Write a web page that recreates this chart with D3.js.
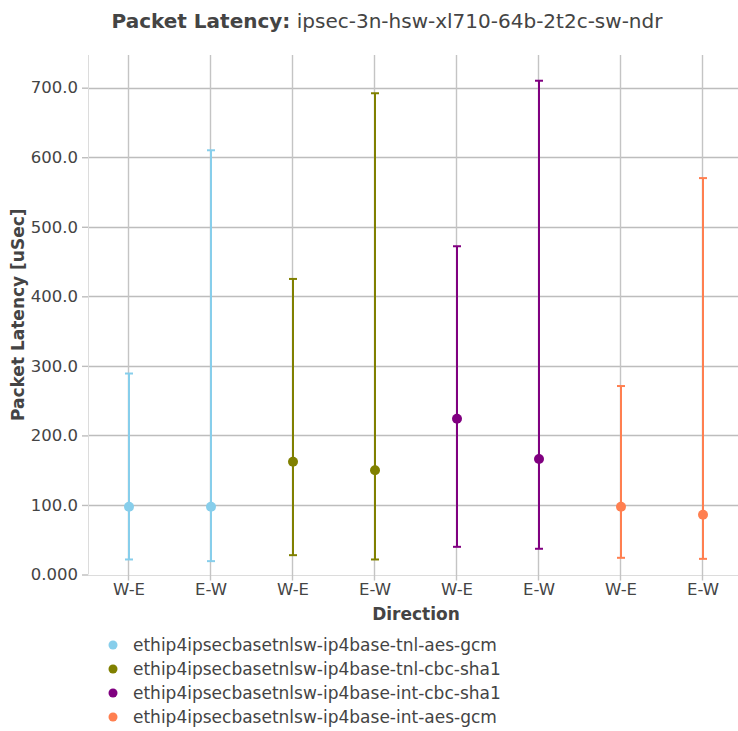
<!DOCTYPE html>
<html>
<head>
<meta charset="utf-8">
<script src="https://cdn.jsdelivr.net/npm/d3@7/dist/d3.min.js"></script>
<style>
  html, body { margin: 0; padding: 0; background: #fff; }
  svg { display: block; font-family: "DejaVu Sans", sans-serif; }
</style>
</head>
<body>
<svg id="chart" width="738" height="731"></svg>
<script>
// ---- data ----
const categories = ["W-E", "E-W", "W-E", "E-W", "W-E", "E-W", "W-E", "E-W"];
const seriesNames = [
  "ethip4ipsecbasetnlsw-ip4base-tnl-aes-gcm",
  "ethip4ipsecbasetnlsw-ip4base-tnl-cbc-sha1",
  "ethip4ipsecbasetnlsw-ip4base-int-cbc-sha1",
  "ethip4ipsecbasetnlsw-ip4base-int-aes-gcm"
];
const seriesColors = ["#87ceeb", "#808000", "#800080", "#ff7f50"];
// per series: [W-E, E-W]
const medianValues = [[97.5, 97.5], [162, 150], [224, 166], [97.5, 86]];
const minValues    = [[21.6, 19.2], [27.8, 21.6], [39.8, 37], [24, 22.5]];
const maxValues    = [[289, 610], [425, 692], [472, 710], [271, 570]];
const yTicks = [0, 100, 200, 300, 400, 500, 600, 700];
const yTickLabels = ["0.000", "100.0", "200.0", "300.0", "400.0", "500.0", "600.0", "700.0"];

// ---- layout ----
const svg = d3.select("#chart");
const L = 88, R = 744, T = 55, B = 574.5;
const txt = "#444";

const x = d3.scaleBand().domain(d3.range(categories.length)).range([L, R]).padding(0);
const xc = i => x(i) + x.bandwidth() / 2;
const y = d3.scaleLinear().domain([0, 747]).range([B, T]);

// grid
const g = svg.append("g");
g.selectAll(".hg").data(yTicks).enter().append("line")
  .attr("x1", L).attr("x2", R)
  .attr("y1", d => Math.round(y(d)) + 0.5).attr("y2", d => Math.round(y(d)) + 0.5)
  .attr("stroke", d => d === 0 ? "#dcdcdc" : "#bdbdbd").attr("stroke-width", d => d === 0 ? 1 : 1.6);
g.selectAll(".vg").data(d3.range(categories.length)).enter().append("line")
  .attr("x1", d => Math.round(xc(d)) - 0.5).attr("x2", d => Math.round(xc(d)) - 0.5)
  .attr("y1", T).attr("y2", B + 6)
  .attr("stroke", "#c4c4c4").attr("stroke-width", 1.4);
// left axis line
g.append("line").attr("x1", L + 0.5).attr("x2", L + 0.5).attr("y1", T).attr("y2", B)
  .attr("stroke", "#dcdcdc").attr("stroke-width", 1);

// y axis
const yAxis = d3.axisLeft(y).tickValues(yTicks).tickFormat((d, i) => yTickLabels[i]).tickSize(6).tickPadding(4);
const ya = svg.append("g").attr("transform", `translate(${L},0)`).call(yAxis);
ya.select(".domain").remove();
ya.selectAll(".tick line").attr("stroke", "#bdbdbd").attr("stroke-width", 1.4);
ya.selectAll(".tick text").attr("fill", txt).attr("font-size", 16.5).attr("font-family", "DejaVu Sans");

// x axis labels
const xAxis = d3.axisBottom(x).tickFormat(i => categories[i]).tickSize(0).tickPadding(9);
const xa = svg.append("g").attr("transform", `translate(0,${B})`).call(xAxis);
xa.select(".domain").remove();
xa.selectAll(".tick text").attr("fill", txt).attr("font-size", 16.5).attr("font-family", "DejaVu Sans");

// data marks
const points = [];
seriesNames.forEach((name, s) => {
  [0, 1].forEach(k => {
    points.push({ s, idx: s * 2 + k, med: medianValues[s][k], lo: minValues[s][k], hi: maxValues[s][k] });
  });
});
const m = svg.append("g");
const pg = m.selectAll(".pt").data(points).enter().append("g");
pg.append("line")
  .attr("x1", d => xc(d.idx)).attr("x2", d => xc(d.idx))
  .attr("y1", d => y(d.lo)).attr("y2", d => y(d.hi))
  .attr("stroke", d => seriesColors[d.s]).attr("stroke-width", 2);
pg.append("line")
  .attr("x1", d => xc(d.idx) - 4).attr("x2", d => xc(d.idx) + 4)
  .attr("y1", d => y(d.lo)).attr("y2", d => y(d.lo))
  .attr("stroke", d => seriesColors[d.s]).attr("stroke-width", 2);
pg.append("line")
  .attr("x1", d => xc(d.idx) - 4).attr("x2", d => xc(d.idx) + 4)
  .attr("y1", d => y(d.hi)).attr("y2", d => y(d.hi))
  .attr("stroke", d => seriesColors[d.s]).attr("stroke-width", 2);
pg.append("circle")
  .attr("cx", d => xc(d.idx)).attr("cy", d => y(d.med)).attr("r", 5)
  .attr("fill", d => seriesColors[d.s]);

// title
const title = svg.append("text").attr("x", 387).attr("y", 28).attr("text-anchor", "middle")
  .attr("fill", txt).attr("font-size", 20);
title.append("tspan").attr("font-weight", "bold").text("Packet Latency:");
title.append("tspan").text(" ipsec-3n-hsw-xl710-64b-2t2c-sw-ndr");

// axis titles
svg.append("text").attr("x", 416).attr("y", 620).attr("text-anchor", "middle")
  .attr("fill", txt).attr("font-size", 17).attr("font-weight", "bold").text("Direction");
svg.append("text").attr("transform", `translate(24,${(T + B) / 2}) rotate(-90)`)
  .attr("text-anchor", "middle").attr("fill", txt).attr("font-size", 17).attr("font-weight", "bold")
  .text("Packet Latency [uSec]");

// legend
const lg = svg.append("g");
const li = lg.selectAll(".li").data(seriesNames).enter().append("g")
  .attr("transform", (d, i) => `translate(0,${645 + i * 24})`);
li.append("circle").attr("cx", 113).attr("cy", 0).attr("r", 4.5).attr("fill", (d, i) => seriesColors[i]);
li.append("text").attr("x", 133).attr("y", 6).attr("fill", txt).attr("font-size", 17).text(d => d);
</script>
</body>
</html>
